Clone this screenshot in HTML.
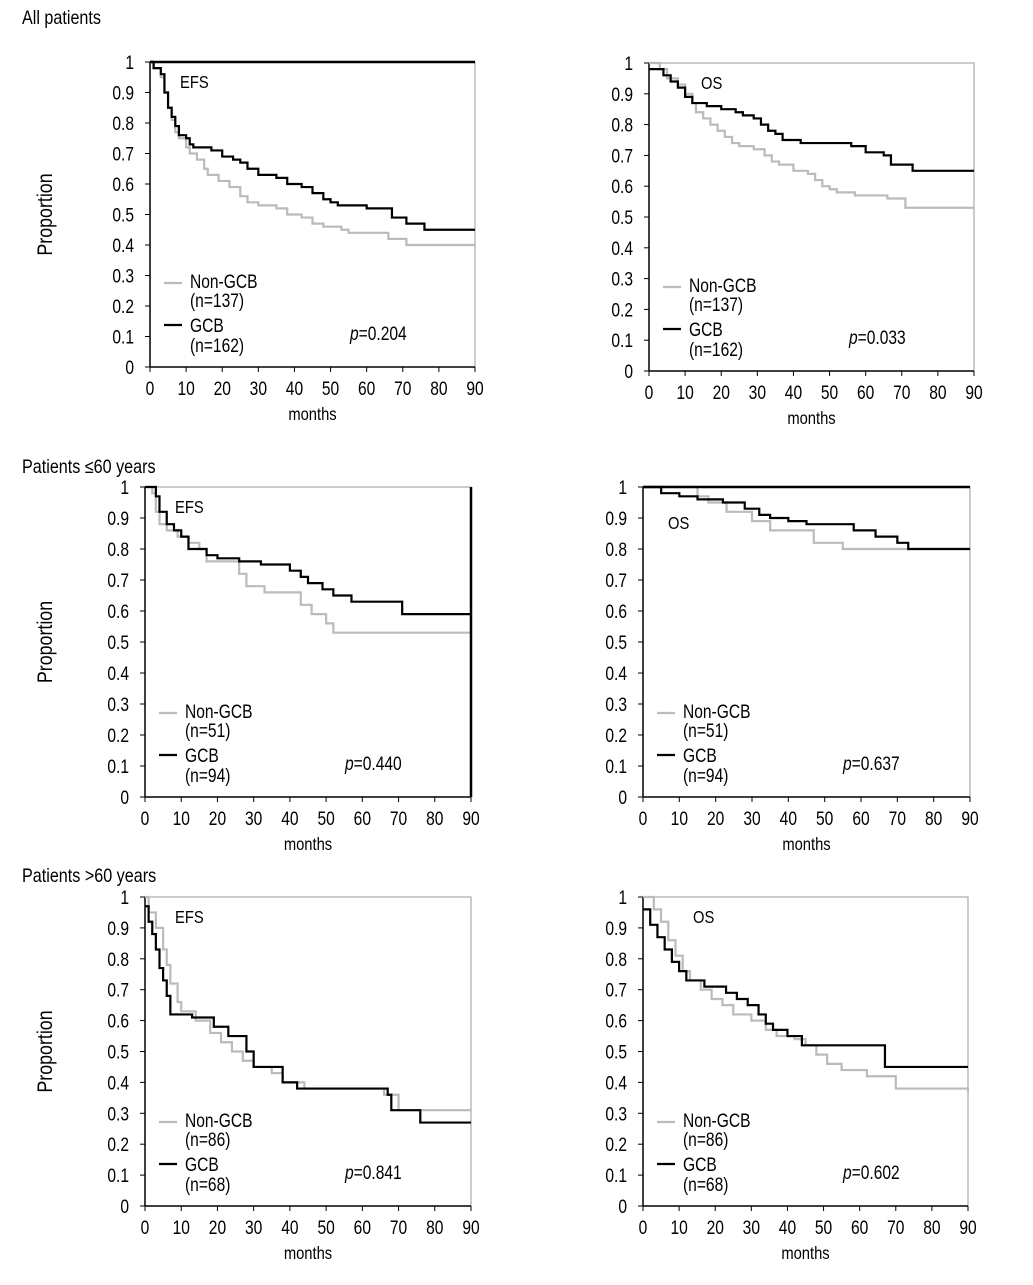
<!DOCTYPE html>
<html><head><meta charset="utf-8"><style>
body{margin:0;background:#fff;width:1033px;height:1280px;overflow:hidden}
svg{font-family:"Liberation Sans",sans-serif}
</style></head><body>
<svg id="c" width="1033" height="1280">
<text transform="translate(22,24) scale(0.85,1)" font-size="19">All patients</text>
<text transform="translate(22,473) scale(0.85,1)" font-size="19">Patients ≤60 years</text>
<text transform="translate(22,882) scale(0.85,1)" font-size="19">Patients &gt;60 years</text>
</svg>
<script>
const xTicks=[0,10,20,30,40,50,60,70,80,90];
const yTicks=[0,0.1,0.2,0.3,0.4,0.5,0.6,0.7,0.8,0.9,1];
const yTickLabels=["0","0.1","0.2","0.3","0.4","0.5","0.6","0.7","0.8","0.9","1"];
const labels=["EFS","OS","EFS","OS","EFS","OS"];
const pValues=["0.204","0.033","0.440","0.637","0.841","0.602"];
const nNon=["137","137","51","51","86","86"];
const nGcb=["162","162","94","94","68","68"];
const nonT1=[0,1,3,4,5,6,7,8,10,11,13,15,16,19,22,25,27,30,35,38,42,45,48,53,55,66,71,90];
const nonS1=[1,0.98,0.95,0.9,0.85,0.81,0.77,0.75,0.72,0.70,0.68,0.65,0.63,0.61,0.59,0.56,0.54,0.53,0.52,0.5,0.49,0.47,0.46,0.45,0.44,0.42,0.40,0.40];
const gcbT1=[0,1,3,4,5,6,7,8,10,11,12,17,20,23,25,27,30,35,38,42,45,48,50,52,60,67,71,76,90];
const gcbS1=[1,0.98,0.96,0.9,0.85,0.82,0.79,0.76,0.75,0.73,0.72,0.71,0.69,0.68,0.67,0.65,0.63,0.62,0.6,0.59,0.57,0.55,0.54,0.53,0.52,0.49,0.47,0.45,0.45];
const nonT2=[0,3,5,8,10,12,13,15,17,19,21,23,25,29,32,34,36,40,44,46,48,50,52,57,66,71,90];
const nonS2=[1,0.98,0.95,0.93,0.9,0.87,0.84,0.82,0.8,0.78,0.76,0.74,0.73,0.72,0.7,0.68,0.67,0.65,0.64,0.62,0.6,0.59,0.58,0.57,0.56,0.53,0.53];
const gcbT2=[0,4,6,8,10,12,16,20,24,26,29,31,33,35,37,42,56,60,65,67,73,90];
const gcbS2=[0.98,0.96,0.94,0.92,0.89,0.87,0.86,0.85,0.84,0.83,0.82,0.8,0.78,0.77,0.75,0.74,0.73,0.71,0.70,0.67,0.65,0.65];
const nonT3=[0,2,3,4,6,9,12,15,17,26,28,33,43,46,50,52,90];
const nonS3=[1,0.98,0.92,0.88,0.86,0.84,0.82,0.80,0.76,0.72,0.68,0.66,0.62,0.59,0.56,0.53,0.53];
const gcbT3=[0,3,4,6,8,10,12,17,20,26,32,40,43,45,49,52,57,71,90];
const gcbS3=[1,0.97,0.92,0.88,0.86,0.84,0.80,0.78,0.77,0.76,0.75,0.73,0.71,0.69,0.67,0.65,0.63,0.59,0.59];
const nonT4=[0,15,18,23,30,35,47,55,90];
const nonS4=[1,0.97,0.95,0.92,0.89,0.86,0.82,0.80,0.80];
const gcbT4=[0,5,10,15,22,28,32,35,40,45,58,64,70,73,90];
const gcbS4=[1,0.98,0.97,0.96,0.95,0.93,0.91,0.90,0.89,0.88,0.86,0.84,0.82,0.80,0.80];
const nonT5=[0,1,3,5,6,7,9,10,14,18,21,24,27,30,35,38,44,66,70,90];
const nonS5=[1,0.95,0.9,0.83,0.78,0.72,0.66,0.63,0.60,0.56,0.53,0.50,0.47,0.45,0.43,0.40,0.38,0.36,0.31,0.31];
const gcbT5=[0,1,2,3,4,5,6,7,13,19,23,28,30,38,42,67,68,76,90];
const gcbS5=[0.97,0.92,0.88,0.83,0.77,0.73,0.68,0.62,0.61,0.58,0.55,0.50,0.45,0.40,0.38,0.36,0.31,0.27,0.27];
const nonT6=[0,3,5,7,9,11,13,16,19,22,25,30,34,37,42,45,48,51,55,62,70,90];
const nonS6=[1,0.96,0.92,0.86,0.81,0.76,0.73,0.70,0.67,0.65,0.62,0.60,0.57,0.55,0.54,0.52,0.49,0.46,0.44,0.42,0.38,0.37];
const gcbT6=[0,2,4,6,8,10,12,17,23,26,29,32,34,36,40,44,67,90];
const gcbS6=[0.96,0.91,0.87,0.83,0.79,0.76,0.73,0.71,0.69,0.67,0.65,0.62,0.59,0.57,0.55,0.52,0.45,0.45];
const series=[[nonT1,nonS1,gcbT1,gcbS1],[nonT2,nonS2,gcbT2,gcbS2],[nonT3,nonS3,gcbT3,gcbS3],[nonT4,nonS4,gcbT4,gcbS4],[nonT5,nonS5,gcbT5,gcbS5],[nonT6,nonS6,gcbT6,gcbS6]];
const boxes=[[150,62,475,367],[649,63,974,371],[145,487,471,797],[643,487,970,797],[145,897,471,1206],[643,897,968,1206]];
const labelOff=[[30,26],[52,26],[30,26],[25,42],[30,26],[50,26]];
const NS="http://www.w3.org/2000/svg";
const svg=document.getElementById('c');
function mk(tag,attrs,parent){const e=document.createElementNS(NS,tag);for(const k in attrs)e.setAttribute(k,attrs[k]);(parent||svg).appendChild(e);return e;}
function txt(x,y,size,anchor,parent,extra){return mk('text',Object.assign({transform:`translate(${x},${y}) scale(0.82,1)${extra||''}`,'font-size':size,'text-anchor':anchor},{}),parent);}
boxes.forEach((b,i)=>{
  const [L,T,R,B]=b;
  const g=mk('g',{});
  
  
  const sx=v=>L+(R-L)*v/90, sy=v=>B-(B-T)*v;
  const fr=mk('rect',{x:L,y:T,width:R-L,height:B-T,fill:'none',stroke:'#999','stroke-width':1},g);
  
  
  const ya=mk('line',{x1:L,y1:T,x2:L,y2:B,stroke:'#000','stroke-width':1.5},g);
  
  
  const xa=mk('line',{x1:L,y1:B,x2:R,y2:B,stroke:'#000','stroke-width':1.5},g);
  
  
  yTicks.forEach((v,j)=>{
    mk('line',{x1:L-5,y1:sy(v),x2:L,y2:sy(v),stroke:'#000'},g);
    const t=txt(L-16,sy(v)+7,19,'end',g);
    t.textContent=yTickLabels[j];
    
    
  });
  xTicks.forEach(v=>{
    mk('line',{x1:sx(v),y1:B,x2:sx(v),y2:B+5,stroke:'#000'},g);
    const t=txt(sx(v),B+28,19,'middle',g);
    t.textContent=v;
    
    
  });
  const xl=txt((L+R)/2,B+53,18,'middle',g);
  xl.textContent='months';
  
  
  if(i%2===0){
    const cy=(T+B)/2;
    const yl=mk('text',{transform:`translate(52,${cy}) rotate(-90) scale(0.85,1)`,'font-size':21,'text-anchor':'middle'},g);
    yl.textContent='Proportion';
    
    
  }
  const s=series[i];
  function path(T_,S_,col,w,name){
    let d=`M${sx(T_[0])},${sy(S_[0])}`;
    for(let k=1;k<T_.length;k++){d+=`H${sx(T_[k])}V${sy(S_[k])}`;}
    const p=mk('path',{d:d,fill:'none',stroke:col,'stroke-width':w},g);
    
    
  }
  path(s[0],s[1],'#bbb',2.2,'non-gcb-curve');
  path(s[2],s[3],'#000',2.2,'gcb-curve');
  if(i===0||i===3){const tl=mk('line',{x1:L,y1:T,x2:R,y2:T,stroke:'#000','stroke-width':2.5},g);}
  if(i===2){const rl=mk('line',{x1:R,y1:T,x2:R,y2:B,stroke:'#000','stroke-width':2.5},g);}
  const lb=txt(L+labelOff[i][0],T+labelOff[i][1],18,'start',g);
  lb.textContent=labels[i];
  
  
  const lx=L+14;
  const l1=mk('line',{x1:lx,y1:B-84,x2:lx+18,y2:B-84,stroke:'#bbb','stroke-width':2.2},g);
  
  
  const t1=txt(lx+26,B-79,19,'start',g);
  t1.textContent='Non-GCB';
  
  
  const t2=txt(lx+26,B-60,19,'start',g);
  t2.textContent='(n='+nNon[i]+')';
  
  
  const l2=mk('line',{x1:lx,y1:B-42,x2:lx+18,y2:B-42,stroke:'#000','stroke-width':2.2},g);
  
  
  const t3=txt(lx+26,B-35,19,'start',g);
  t3.textContent='GCB';
  
  
  const t4=txt(lx+26,B-15,19,'start',g);
  t4.textContent='(n='+nGcb[i]+')';
  
  
  const pv=txt(L+200,B-27,19,'start',g);
  pv.innerHTML='<tspan font-style="italic">p</tspan>='+pValues[i];
  
  
});
</script>
</body></html>
